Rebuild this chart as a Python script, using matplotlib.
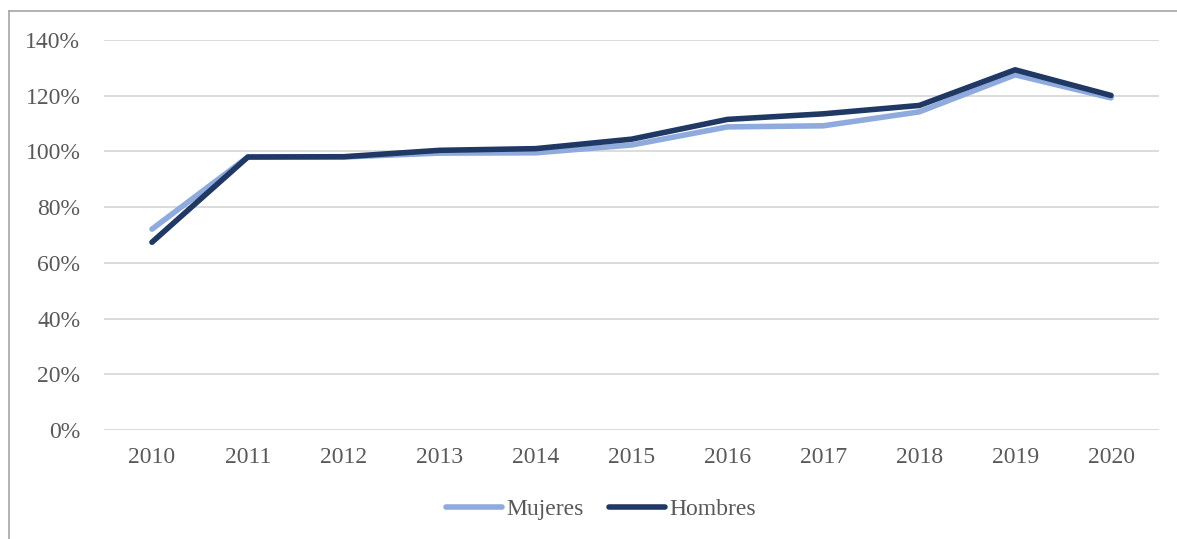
import matplotlib
matplotlib.use("Agg")
import matplotlib.pyplot as plt
from matplotlib.lines import Line2D
from matplotlib.ticker import FuncFormatter

years = ["2010", "2011", "2012", "2013", "2014", "2015", "2016", "2017", "2018", "2019", "2020"]
mujeres = [72.1, 98.0, 98.0, 99.4, 99.5, 102.3, 108.8, 109.2, 114.2, 127.5, 119.2]
hombres = [67.4, 98.0, 98.1, 100.4, 101.0, 104.4, 111.5, 113.5, 116.5, 129.3, 120.1]

C_MUJ = "#8FAADC"
C_HOM = "#203864"
TXT = "#595959"

plt.rcParams.update({"font.family": "Liberation Serif", "font.size": 17})

fig = plt.figure(figsize=(11.77, 5.39), dpi=100)
ax = fig.add_axes([104 / 1177, 1 - 430 / 539, (1159 - 104) / 1177, 390 / 539])

x = range(len(years))
ax.plot(x, mujeres, color=C_MUJ, lw=4.0, solid_capstyle="round", solid_joinstyle="round",
        label="Mujeres", zorder=3)
ax.plot(x, hombres, color=C_HOM, lw=4.0, solid_capstyle="round", solid_joinstyle="round",
        label="Hombres", zorder=4)

ax.set_xlim(-0.5, len(years) - 0.5)
ax.set_ylim(0, 140)
ax.set_yticks(range(0, 141, 20))
ax.yaxis.set_major_formatter(FuncFormatter(lambda v, _: f"{v:.0f}%"))
ax.set_xticks(list(x))
ax.set_xticklabels(years)
ax.tick_params(length=0, colors=TXT, labelsize=17)
ax.tick_params(axis="x", pad=12)
ax.tick_params(axis="y", pad=17)
ax.grid(axis="y", color="#D9D9D9", lw=1.3)
ax.set_axisbelow(True)
for s in ax.spines.values():
    s.set_visible(False)

leg = fig.legend(loc="center", bbox_to_anchor=(601 / 1177, 1 - 509 / 539), ncol=2,
                 frameon=False, fontsize=17, handlelength=2.37, handletextpad=0.17,
                 columnspacing=1.1)
for t in leg.get_texts():
    t.set_color(TXT)

# outer chart frame (only left and top are visible in the crop)
fig.add_artist(Line2D([9 / 1177, 9 / 1177], [0, 1 - 11 / 539], color="#A6A6A6", lw=1.2))
fig.add_artist(Line2D([9 / 1177, 1], [1 - 11 / 539, 1 - 11 / 539], color="#A6A6A6", lw=1.2))

fig.savefig("out.png", dpi=100)
